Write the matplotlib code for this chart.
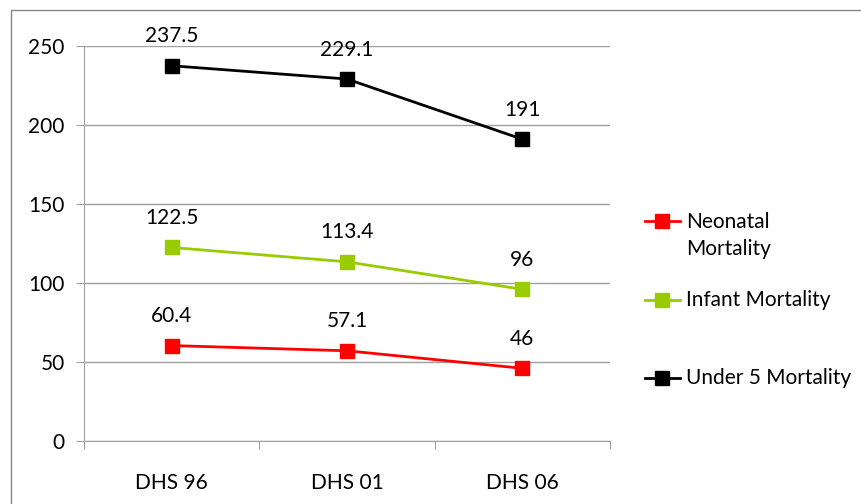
import matplotlib.pyplot as plt
from matplotlib.lines import Line2D

plt.rcParams['font.family'] = ['Lato', 'DejaVu Sans']

# Dados
surveys = ['DHS 96', 'DHS 01', 'DHS 06']
neonatal = [60.4, 57.1, 46]
infant = [122.5, 113.4, 96]
under5 = [237.5, 229.1, 191]
labels = ['Neonatal\nMortality', 'Infant Mortality', 'Under 5 Mortality']
colors = ['#FF0000', '#99CC00', '#000000']

fs = 15

fig = plt.figure(figsize=(8.62, 5.04), dpi=100)
ax = fig.add_axes([84 / 862, 1 - 441 / 504, (610 - 84) / 862, (441 - 46) / 504])

x = list(range(len(surveys)))
series = [neonatal, infant, under5]
handles = []
for vals, lab, c in zip(series, labels, colors):
    h, = ax.plot(x, vals, color=c, lw=2, marker='s', markersize=9.5,
                 markeredgecolor=c, label=lab)
    handles.append(h)
    for xi, v in zip(x, vals):
        ax.annotate(f'{v:g}', (xi, v), xytext=(0, 14), textcoords='offset points',
                    ha='center', va='bottom', fontsize=fs, color='black')

ax.set_xlim(-0.5, 2.5)
ax.set_ylim(0, 250)
ax.set_yticks(range(0, 251, 50))
ax.yaxis.grid(True, color='#A0A0A0', lw=1)
ax.set_axisbelow(True)
ax.set_xticks([-0.5, 0.5, 1.5, 2.5])
ax.set_xticklabels([])
ax.set_xticks(x, minor=True)
ax.set_xticklabels(surveys, minor=True)
ax.tick_params(axis='x', which='minor', length=0, pad=23, labelsize=fs)
ax.tick_params(axis='x', which='major', length=6, color='#A0A0A0', direction='out')
ax.tick_params(axis='y', length=6, color='#A0A0A0', labelsize=fs, pad=8)
for s in ['top', 'right']:
    ax.spines[s].set_visible(False)
for s in ['left', 'bottom']:
    ax.spines[s].set_color('#A0A0A0')

# Legenda
leg_y = [221, 300, 378]
for h, yy in zip(handles, leg_y):
    yf = 1 - yy / 504
    fig.lines.append(Line2D([645 / 862, 662 / 862, 680 / 862], [yf, yf, yf],
                            color=h.get_color(), lw=2, marker='s', markersize=9.5,
                            markevery=[1], transform=fig.transFigure))
    lab = h.get_label()
    fig.text(686 / 862, yf + (9 / 504 if '\n' in lab else 0), lab, fontsize=fs,
             va='top' if '\n' in lab else 'center', ha='left', linespacing=1.45,
             transform=fig.transFigure)

# Borda externa
fig.lines.append(Line2D([11 / 862, 11 / 862, 1], [0, 1 - 10 / 504, 1 - 10 / 504],
                        color='#888888', lw=1, transform=fig.transFigure))

fig.savefig('out.png', dpi=100)
